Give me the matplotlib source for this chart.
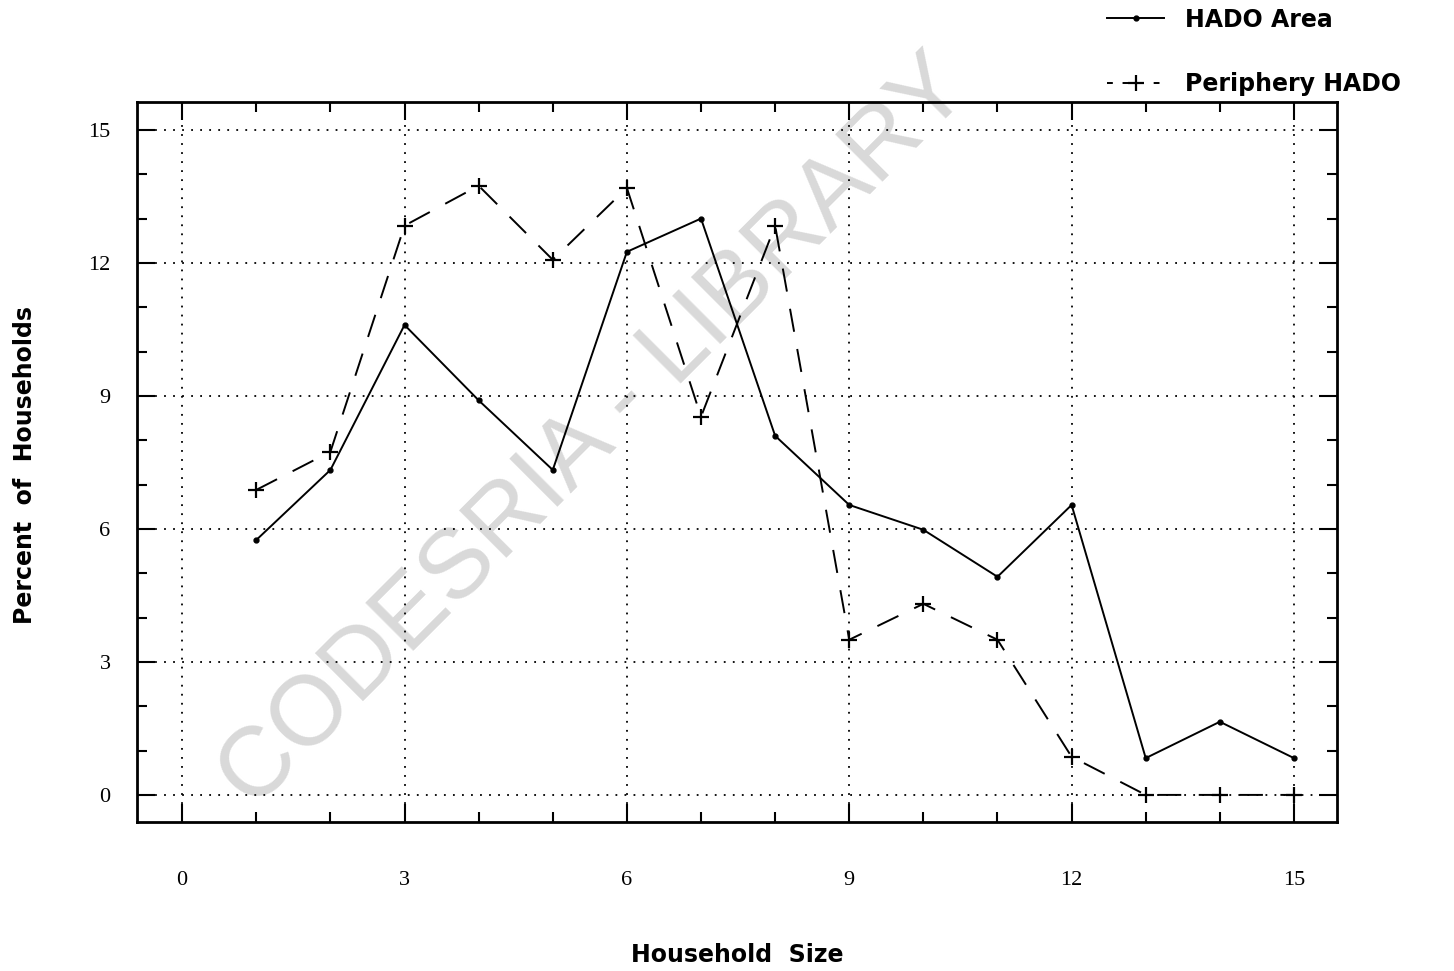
import matplotlib
matplotlib.use("Agg")
import matplotlib.pyplot as plt
from matplotlib.ticker import MultipleLocator
from matplotlib.lines import Line2D

household_size = [1, 2, 3, 4, 5, 6, 7, 8, 9, 10, 11, 12, 13, 14, 15]
hado_area = [5.75, 7.33, 10.6, 8.9, 7.33, 12.25, 13.0, 8.1, 6.54, 5.98, 4.92, 6.54, 0.83, 1.65, 0.83]
periphery_hado = [6.88, 7.74, 12.84, 13.74, 12.07, 13.69, 8.53, 12.84, 3.5, 4.31, 3.5, 0.86, 0.0, 0.0, 0.0]
tick_values = [0, 3, 6, 9, 12, 15]
tick_labels = ["0", "3", "6", "9", "12", "15"]

fig = plt.figure(figsize=(14.54, 9.71), dpi=100)
ax = fig.add_axes([0.0942, 0.1535, 0.8253, 0.7415])

ax.plot(household_size, hado_area, color="black", lw=1.4, ls="-",
        marker="o", ms=3.5, zorder=3)
ax.plot(household_size, periphery_hado, color="black", lw=1.4, ls=(0, (12, 9)),
        marker="+", ms=12, mew=1.6, zorder=3)

ax.set_xlim(-0.61, 15.58)
ax.set_ylim(-0.61, 15.63)

ax.set_xticks(tick_values)
ax.set_xticklabels(tick_labels)
ax.set_yticks(tick_values)
ax.set_yticklabels(tick_labels)
ax.xaxis.set_minor_locator(MultipleLocator(1))
ax.yaxis.set_minor_locator(MultipleLocator(1))

ax.tick_params(which="both", direction="in", top=True, right=True, width=1.5, color="black")
ax.tick_params(which="major", length=13)
ax.tick_params(which="minor", length=7)
ax.tick_params(axis="x", which="major", pad=35)
ax.tick_params(axis="y", which="major", pad=19)
for lab in ax.get_xticklabels() + ax.get_yticklabels():
    lab.set_fontfamily("Liberation Serif")
    lab.set_fontsize(16)

ax.grid(True, which="major", ls=(0, (1, 4)), color="black", lw=1.3)
for s in ax.spines.values():
    s.set_linewidth(2)

ax.set_xlabel("Household  Size", fontsize=17, fontweight="bold",
              fontfamily="DejaVu Sans")
ax.set_ylabel("Percent  of  Households", fontsize=17, fontweight="bold",
              fontfamily="DejaVu Sans")
ax.xaxis.label.set_verticalalignment("center")
ax.yaxis.label.set_verticalalignment("center")
ax.xaxis.set_label_coords(0.5, (822 - 955) / 720)
ax.yaxis.set_label_coords((25 - 137) / 1200, (822 - 465) / 720)

# legend outside top right
h1 = Line2D([], [], color="black", lw=1.4, marker="o", ms=3.5)
h2 = Line2D([], [], color="black", lw=1.4, ls=(0, (3, 5)), marker="+", ms=12, mew=1.6)
leg = fig.legend([h1, h2], ["HADO Area", "Periphery HADO"], loc="upper left",
                 bbox_to_anchor=(1086 / 1454, 1.014), frameon=False, handlelength=2.4,
                 handletextpad=0.9, labelspacing=1.7,
                 prop={"size": 17, "weight": "bold", "family": "DejaVu Sans"})

# watermark
ax.text(0.382, 0.54, "CODESRIA - LIBRARY", transform=ax.transAxes, rotation=45,
        fontsize=71, color="#d9d9d9", ha="center", va="center",
        fontfamily="Liberation Sans", zorder=1)

fig.savefig("out.png", dpi=100)
